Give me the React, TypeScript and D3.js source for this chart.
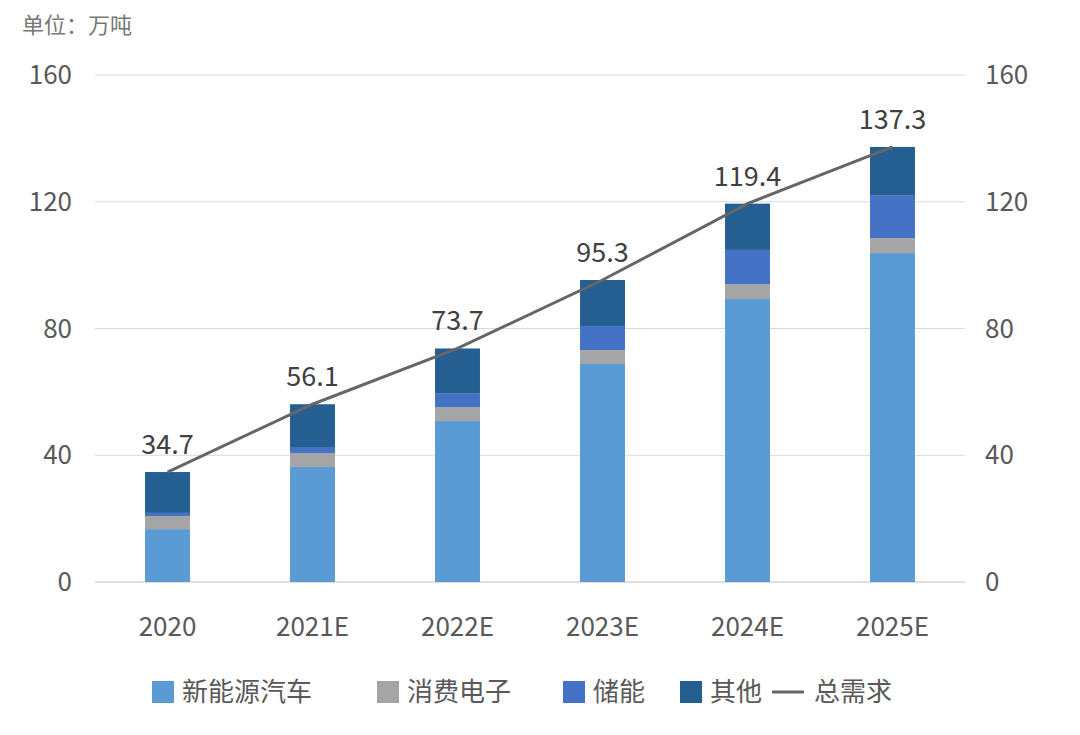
import React, { useEffect, useRef } from "react";
import * as d3 from "d3";

const categories = ["2020", "2021E", "2022E", "2023E", "2024E", "2025E"];
const totals = [34.7, 56.1, 73.7, 95.3, 119.4, 137.3];
const nev = [16.7, 36.3, 50.8, 68.8, 89.3, 103.8];
const consumer = [4.1, 4.4, 4.4, 4.4, 4.7, 4.7];
const storage = [1.0, 1.9, 4.4, 7.6, 10.8, 13.6];
const other = totals.map((t, i) => +(t - nev[i] - consumer[i] - storage[i]).toFixed(1));
const yTicks = [0, 40, 80, 120, 160];

const seriesNames = ["新能源汽车", "消费电子", "储能", "其他"];
const colors = ["#5B9BD5", "#A5A5A5", "#4472C4", "#255E91"];
const lineName = "总需求";

const FONT = "'Noto Sans CJK SC', 'Noto Sans', sans-serif";

const App: React.FC = () => {
	const ref = useRef<SVGSVGElement | null>(null);

	useEffect(() => {
		if (!ref.current) return;
		const svg = d3.select(ref.current);
		svg.selectAll("*").remove();

		const left = 95, right = 965, top = 75, bottom = 582;
		const x = d3.scaleBand().domain(categories).range([left, right]).paddingInner(0.69).paddingOuter(0.345);
		const y = d3.scaleLinear().domain([0, 160]).range([bottom, top]);

		svg.append("text").attr("x", 22).attr("y", 33).attr("font-size", 22)
			.attr("fill", "#777").attr("font-family", FONT).text("单位：万吨");

		const grid = svg.append("g");
		yTicks.forEach((t) => {
			grid.append("line").attr("x1", left).attr("x2", right).attr("y1", y(t)).attr("y2", y(t))
				.attr("stroke", t === 0 ? "#bfbfbf" : "#d9d9d9").attr("stroke-width", 1);
			grid.append("text").attr("x", 72).attr("y", y(t)).attr("dy", "0.35em").attr("text-anchor", "end")
				.attr("font-size", 26).attr("fill", "#595959").attr("font-family", FONT).text(t);
			grid.append("text").attr("x", 985).attr("y", y(t)).attr("dy", "0.35em").attr("text-anchor", "start")
				.attr("font-size", 26).attr("fill", "#595959").attr("font-family", FONT).text(t);
		});

		const rows = categories.map((c, i) => ({ c, nev: nev[i], consumer: consumer[i], storage: storage[i], other: other[i] }));
		const stack = d3.stack<any>().keys(["nev", "consumer", "storage", "other"])(rows);
		stack.forEach((layer, li) => {
			svg.append("g").selectAll("rect").data(layer).enter().append("rect")
				.attr("x", (d) => x(d.data.c)!)
				.attr("width", x.bandwidth())
				.attr("y", (d) => y(d[1]))
				.attr("height", (d) => y(d[0]) - y(d[1]))
				.attr("fill", colors[li]);
		});

		const line = d3.line<number>().x((_, i) => x(categories[i])! + x.bandwidth() / 2).y((d) => y(d));
		svg.append("path").attr("d", line(totals)).attr("fill", "none").attr("stroke", "#666").attr("stroke-width", 3);

		svg.append("g").selectAll("text").data(totals).enter().append("text")
			.attr("x", (_, i) => x(categories[i])! + x.bandwidth() / 2)
			.attr("y", (d) => y(d) - 18)
			.attr("text-anchor", "middle").attr("font-size", 27).attr("fill", "#404040").attr("font-family", FONT)
			.text((d) => d.toFixed(1));

		svg.append("g").selectAll("text").data(categories).enter().append("text")
			.attr("x", (d) => x(d)! + x.bandwidth() / 2).attr("y", 636)
			.attr("text-anchor", "middle").attr("font-size", 26).attr("fill", "#595959").attr("font-family", FONT)
			.text((d) => d);

		const legend = svg.append("g").attr("font-family", FONT).attr("font-size", 26).attr("fill", "#595959");
		const lx = [152, 377, 563, 680];
		seriesNames.forEach((n, i) => {
			legend.append("rect").attr("x", lx[i]).attr("y", 681).attr("width", 22).attr("height", 22).attr("fill", colors[i]);
			legend.append("text").attr("x", lx[i] + 30).attr("y", 692).attr("dy", "0.35em").text(n);
		});
		legend.append("line").attr("x1", 772).attr("x2", 804).attr("y1", 692).attr("y2", 692).attr("stroke", "#666").attr("stroke-width", 3);
		legend.append("text").attr("x", 814).attr("y", 692).attr("dy", "0.35em").text(lineName);
	}, []);

	return <svg ref={ref} width={1080} height={735} style={{ position: "absolute", left: 0, top: 0, background: "#fff" }} />;
};

export default App;
